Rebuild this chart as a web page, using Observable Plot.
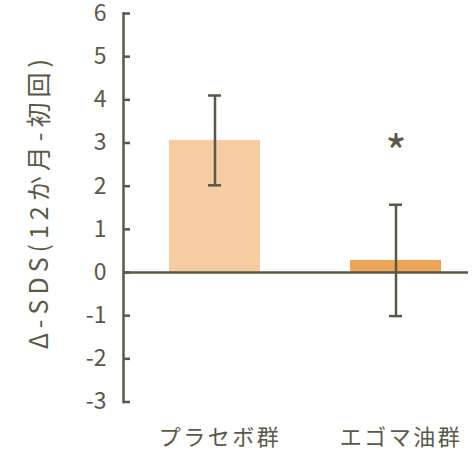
<!DOCTYPE html>
<html>
<head>
<meta charset="utf-8">
<script src="https://cdn.jsdelivr.net/npm/d3@7"></script>
<script src="https://cdn.jsdelivr.net/npm/@observablehq/plot@0.6"></script>
<style>
  body { margin: 0; background: #fff; }
  #chart { width: 475px; height: 455px; }
</style>
</head>
<body>
<div id="chart"></div>
<script>
const groups = ["プラセボ群", "エゴマ油群"];
const means = [3.06, 0.28];
const errors = [1.04, 1.29];
const markers = ["", "*"];
const markerY = [null, 3.0];
const yTicks = [-3, -2, -1, 0, 1, 2, 3, 4, 5, 6];
const yLabel = "Δ-SDS(12か月-初回)";
const colors = ["#F6CDA2", "#ECA456"];

const data = groups.map((g, i) => ({
  group: g, mean: means[i], lo: means[i] - errors[i], hi: means[i] + errors[i],
  marker: markers[i], my: markerY[i], color: colors[i]
}));

const ink = "#5a5846";
const font = "'Noto Sans CJK JP', 'Noto Sans', sans-serif";

const plot = Plot.plot({
  width: 475,
  height: 455,
  marginLeft: 123,
  marginRight: 7,
  marginTop: 13,
  marginBottom: 53.5,
  style: { fontFamily: font, color: ink, background: "#fff" },
  x: { domain: groups, range: [123.6, 486.6], paddingInner: 0.5, paddingOuter: 0.25, label: null },
  y: { domain: [-3, 6], label: null },
  marks: [
    Plot.barY(data, { x: "group", y: "mean", fill: "color" }),
    Plot.ruleY([0], { stroke: ink, strokeWidth: 2.5 }),
    Plot.frame({ anchor: "left", stroke: ink, strokeWidth: 2.5 }),
    Plot.ruleX(data, { x: "group", y1: "lo", y2: "hi", stroke: ink, strokeWidth: 2.5 }),
    Plot.tickY(data, { x: "group", y: "lo", stroke: ink, strokeWidth: 2.5, insetLeft: 39, insetRight: 39 }),
    Plot.tickY(data, { x: "group", y: "hi", stroke: ink, strokeWidth: 2.5, insetLeft: 39, insetRight: 39 }),
    Plot.text(data.filter(d => d.marker), { x: "group", y: "my", text: "marker", fontSize: 46, fill: ink, dy: 12 }),
    Plot.axisY({ ticks: yTicks, tickSize: -7, tickPadding: 24, tickFormat: d => String(d), fontSize: 23, stroke: ink, strokeWidth: 2.5, fill: ink }),
    Plot.axisX({ tickSize: 0, tickPadding: 27, fontSize: 22, fill: ink, label: null, dx: 5 }),
    Plot.text([yLabel], { frameAnchor: "left", textAnchor: "middle", dx: -84, dy: -6, rotate: -90, fontSize: 25, fill: ink, x: null, y: null })
  ]
});
document.getElementById("chart").appendChild(plot);

// letter spacing for the wide, rounded look of the original font
d3.select(plot).selectAll("text").filter(function () { return this.textContent === yLabel; })
  .attr("letter-spacing", "5px");
d3.select(plot).selectAll("text").filter(function () { return groups.includes(this.textContent); })
  .attr("letter-spacing", "2.5px");
</script>
</body>
</html>
